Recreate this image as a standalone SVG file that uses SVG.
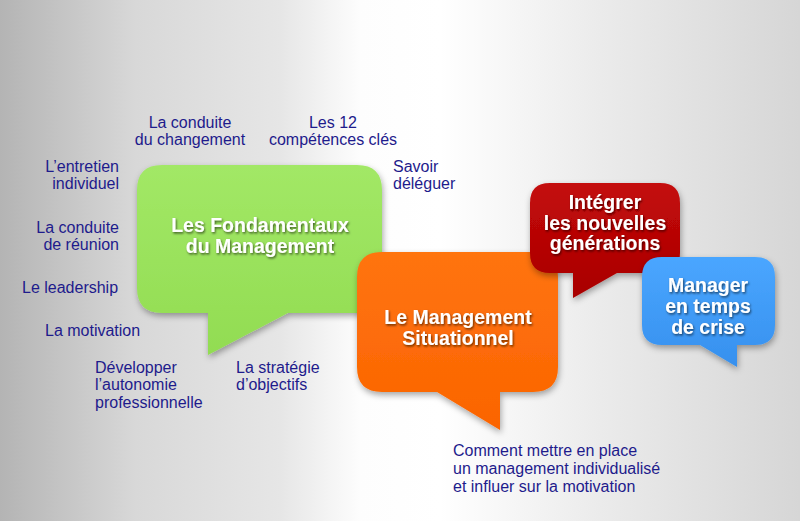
<svg xmlns="http://www.w3.org/2000/svg" width="800" height="521" viewBox="0 0 800 521">
<defs>
<linearGradient id="bg" x1="0" y1="0" x2="1" y2="0">
<stop offset="0" stop-color="#b4b4b4"/>
<stop offset="0.17" stop-color="#d8d8d8"/>
<stop offset="0.35" stop-color="#e6e6e6"/>
<stop offset="0.45" stop-color="#fdfdfd"/>
<stop offset="0.55" stop-color="#ffffff"/>
<stop offset="0.75" stop-color="#ebebeb"/>
<stop offset="1" stop-color="#d6d6d6"/>
</linearGradient>
<linearGradient id="gGreen" x1="0" y1="0" x2="0" y2="1"><stop offset="0" stop-color="#a2e866"/><stop offset="1" stop-color="#92dc52"/></linearGradient>
<linearGradient id="gOrange" x1="0" y1="0" x2="0" y2="1"><stop offset="0" stop-color="#ff7410"/><stop offset="1" stop-color="#fb6400"/></linearGradient>
<linearGradient id="gRed" x1="0" y1="0" x2="0" y2="1"><stop offset="0" stop-color="#c40a0a"/><stop offset="1" stop-color="#a80000"/></linearGradient>
<linearGradient id="gBlue" x1="0" y1="0" x2="0" y2="1"><stop offset="0" stop-color="#4aa6ff"/><stop offset="1" stop-color="#3690ee"/></linearGradient>
<filter id="sh" x="-10%" y="-10%" width="125%" height="130%">
<feDropShadow dx="1" dy="3" stdDeviation="3" flood-color="#000" flood-opacity="0.35"/>
</filter>
<filter id="tsh" x="-10%" y="-20%" width="120%" height="150%">
<feDropShadow dx="1" dy="1.5" stdDeviation="0.8" flood-color="#000" flood-opacity="0.6"/>
</filter>
</defs>
<style>
.lbl{font-family:"Liberation Sans",Arial,sans-serif;font-size:16px;fill:#1e1b8c}
.bt{font-family:"Liberation Sans",Arial,sans-serif;font-size:19.5px;font-weight:bold;fill:#ffffff;text-anchor:middle}
.r{text-anchor:end}
.m{text-anchor:middle}
</style>
<rect x="0" y="0" width="800" height="521" fill="url(#bg)"/>

<g id="connectors"></g>

<g id="n-fondamentaux" filter="url(#sh)">
<path d="M162,165 H357 Q382,165 382,190 V288 Q382,313 357,313 H288 L208,355 V313 H162 Q137,313 137,288 V190 Q137,165 162,165 Z" fill="url(#gGreen)"/>
<g filter="url(#tsh)"><text class="bt" x="260" y="232">Les Fondamentaux</text><text class="bt" x="260" y="253">du Management</text></g>
</g>

<g id="n-situationnel" filter="url(#sh)">
<path d="M382,252 H533 Q558,252 558,277 V367 Q558,392 533,392 H500 V430 L437,392 H382 Q357,392 357,367 V277 Q357,252 382,252 Z" fill="url(#gOrange)"/>
<g filter="url(#tsh)"><text class="bt" x="458" y="324">Le Management</text><text class="bt" x="458" y="345">Situationnel</text></g>
</g>

<g id="n-generations" filter="url(#sh)">
<path d="M550,183 H660 Q680,183 680,203 V253 Q680,273 660,273 H617 L573,298 V273 H550 Q530,273 530,253 V203 Q530,183 550,183 Z" fill="url(#gRed)"/>
<g filter="url(#tsh)"><text class="bt" x="605" y="209">Intégrer</text><text class="bt" x="605" y="230">les nouvelles</text><text class="bt" x="605" y="250">générations</text></g>
</g>

<g id="n-crise" filter="url(#sh)">
<path d="M662,257 H755 Q775,257 775,277 V325 Q775,345 755,345 H737 V367 L700,345 H662 Q642,345 642,325 V277 Q642,257 662,257 Z" fill="url(#gBlue)"/>
<g filter="url(#tsh)"><text class="bt" x="708" y="292">Manager</text><text class="bt" x="708" y="313">en temps</text><text class="bt" x="708" y="334">de crise</text></g>
</g>

<g id="labels">
<text class="lbl m" x="190" y="128">La conduite</text>
<text class="lbl m" x="190" y="145">du changement</text>
<text class="lbl m" x="333" y="128">Les 12</text>
<text class="lbl m" x="333" y="145">compétences clés</text>
<text class="lbl r" x="119" y="172">L’entretien</text>
<text class="lbl r" x="119" y="189">individuel</text>
<text class="lbl" x="393" y="172">Savoir</text>
<text class="lbl" x="393" y="189">déléguer</text>
<text class="lbl r" x="119" y="233">La conduite</text>
<text class="lbl r" x="119" y="250">de réunion</text>
<text class="lbl" x="22" y="293">Le leadership</text>
<text class="lbl" x="45" y="336">La motivation</text>
<text class="lbl" x="95" y="373">Développer</text>
<text class="lbl" x="95" y="390">l’autonomie</text>
<text class="lbl" x="95" y="408">professionnelle</text>
<text class="lbl" x="236" y="373">La stratégie</text>
<text class="lbl" x="236" y="390">d’objectifs</text>
<text class="lbl" x="453" y="456">Comment mettre en place</text>
<text class="lbl" x="453" y="474">un management individualisé</text>
<text class="lbl" x="453" y="492">et influer sur la motivation</text>
</g>
</svg>
